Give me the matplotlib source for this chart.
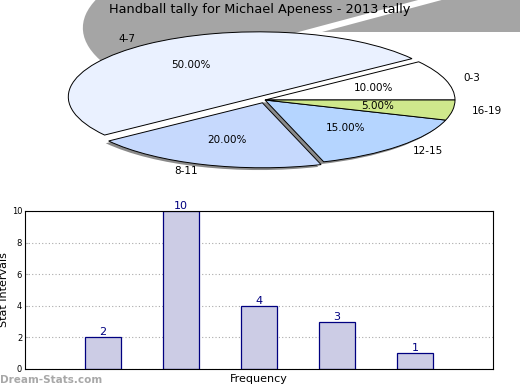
import matplotlib
matplotlib.use('Agg')
import matplotlib.pyplot as plt

# ---- data ----
categories = ['0-3', '4-7', '8-11', '12-15', '16-19']
counts = [2, 10, 4, 3, 1]
pie_colors = ['#ffffff', '#eaf1ff', '#c6d9fd', '#b5d5ff', '#cfe88c']
explode = [0, 0.06, 0.045, 0, 0]
title = 'Handball tally for Michael Apeness - 2013 tally'
bar_positions = [1, 2, 3, 4, 5]
yticks = [0, 2, 4, 6, 8, 10]

W, H = 520, 390
fig = plt.figure(figsize=(5.2, 3.9), dpi=100)


def ax_px(cx, cy, rx, ry, lim=1.3):
    w = 2 * lim * rx
    h = 2 * lim * ry
    return [(cx - w / 2) / W, (H - cy - h / 2) / H, w / W, h / H]


def finish_pie(ax):
    ax.set_aspect('auto')
    ax.set_xlim(-1.3, 1.3)
    ax.set_ylim(-1.3, 1.3)
    ax.axis('off')


# big grey shadow (artifact of the original rendering)
axs = fig.add_axes(ax_px(322, 32, 231, 85), zorder=0)
big_colors = ['#a5a5a5', '#a5a5a5', 'none', 'none', 'none']
axs.pie(counts, explode=explode, colors=big_colors, startangle=0,
        wedgeprops=dict(linewidth=0))
finish_pie(axs)

# main pie
axp = fig.add_axes(ax_px(265, 100, 190, 65), zorder=1)
shadow_colors = ['none', 'none', '#8a8a8a', '#8a8a8a', '#8a8a8a']
axp.pie(counts, explode=explode, colors=shadow_colors, startangle=0,
        center=(-0.015, -0.035), wedgeprops=dict(linewidth=0))
axp.pie(counts, explode=explode, labels=categories, colors=pie_colors,
        autopct='%.2f%%', startangle=0,
        wedgeprops=dict(edgecolor='black', linewidth=0.7),
        textprops=dict(fontsize=7.5))
finish_pie(axp)

fig.text(260 / W, 1 - 10 / H, title, ha='center', va='center', fontsize=9.3,
         zorder=5)

# bar chart
axb = fig.add_axes([25 / W, 21 / H, 468 / W, 158 / H], zorder=2)
axb.bar(bar_positions, counts, width=0.46, color='#ccccE5',
        edgecolor='#000080', linewidth=0.9, zorder=2)
axb.set_xlim(0, 6)
axb.set_ylim(0, 10)
axb.set_xticks([])
axb.set_yticks(yticks)
axb.tick_params(axis='y', direction='in', length=2, color='#bbbbbb',
                labelsize=6, pad=2)
axb.yaxis.grid(True, linestyle=(0, (1, 2)), color='#aaaaaa', linewidth=0.8)
for x, v in zip(bar_positions, counts):
    axb.text(x, v, str(v), ha='center', va='bottom', color='#000080',
             fontsize=8, zorder=3)
axb.set_ylabel('Stat Intervals', fontsize=8)
axb.yaxis.set_label_coords(-16 / 468, 0.5)
axb.set_xlabel('Frequency', fontsize=8)
axb.xaxis.set_label_coords(0.5, -5 / 158)

fig.text(0, (H - 380) / H, 'Dream-Stats.com', ha='left', va='center',
         fontsize=7.5, fontweight='bold', color='#a8a8a8')

fig.savefig('out.png', dpi=100)
